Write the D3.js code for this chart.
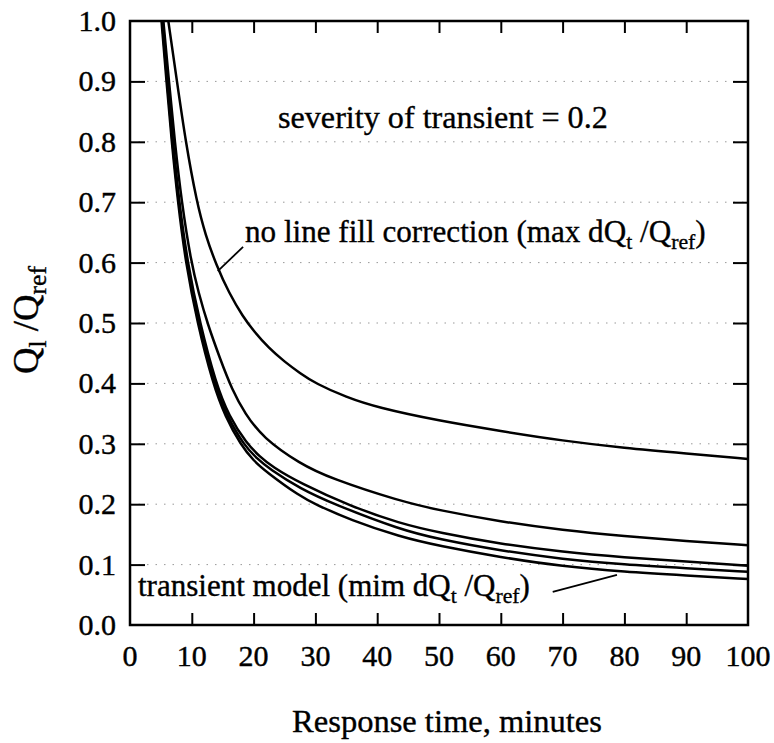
<!DOCTYPE html>
<html>
<head>
<meta charset="utf-8">
<script src="https://cdn.jsdelivr.net/npm/d3@7"></script>
<style>
  body { margin: 0; background: #fff; }
  svg { display: block; }
</style>
</head>
<body>
<svg></svg>
<script>
const width = 774;
const height = 743;
const margin = { top: 21, right: 26, bottom: 118, left: 130 };

// tick values
const xTicks = [0, 10, 20, 30, 40, 50, 60, 70, 80, 90, 100];
const yTicks = [0.0, 0.1, 0.2, 0.3, 0.4, 0.5, 0.6, 0.7, 0.8, 0.9, 1.0];

// curves: [response time, Ql/Qref]
const noLineFill = [[6.2,1.0],[7.6,0.9],[9.0,0.8],[10.8,0.7],[12.2,0.646],[14,0.595],[16,0.55],[18.3,0.51],[20,0.487],[22.5,0.458],[25,0.436],[27.5,0.417],[30,0.40],[35,0.377],[40,0.36],[50,0.338],[60,0.321],[70,0.305],[80,0.293],[90,0.284],[100,0.275]];
const curveB = [[5.4,1.0],[6.3,0.9],[7.25,0.8],[8.35,0.7],[9.9,0.6],[11.1,0.55],[12.5,0.5],[14.6,0.44],[16.5,0.39],[18.6,0.35],[21.5,0.31],[27.5,0.267],[32.4,0.243],[43.7,0.205],[50,0.19],[60,0.171],[70,0.157],[80,0.147],[90,0.139],[100,0.132]];
const curveC = [[5.3,1.0],[6.1,0.9],[6.95,0.8],[7.95,0.7],[9.3,0.6],[11.3,0.5],[13.9,0.4],[16,0.346],[18.9,0.3],[21,0.279],[23,0.262],[27.5,0.235],[35.6,0.197],[43.7,0.168],[50,0.153],[60,0.134],[70,0.121],[80,0.112],[90,0.105],[100,0.098]];
const curveD = [[5.2,1.0],[6.0,0.9],[6.85,0.8],[7.85,0.7],[9.15,0.6],[11.1,0.5],[13.6,0.4],[15.7,0.345],[18.5,0.297],[20.5,0.276],[22.5,0.259],[27.5,0.226],[33,0.2],[43.7,0.158],[50,0.142],[60,0.123],[70,0.109],[80,0.1],[90,0.094],[100,0.088]];
const transientModel = [[5.1,1.0],[5.9,0.9],[6.75,0.8],[7.75,0.7],[9.0,0.6],[10.9,0.5],[13.4,0.4],[15.4,0.345],[18,0.297],[20,0.272],[22,0.254],[27.5,0.213],[30,0.2],[35.6,0.174],[43.7,0.146],[50,0.131],[60,0.112],[70,0.097],[80,0.088],[90,0.082],[100,0.076]];
const allCurves = [noLineFill, curveB, curveC, curveD, transientModel];

const svg = d3.select('svg')
  .attr('width', width)
  .attr('height', height);

svg.append('rect').attr('width', width).attr('height', height).attr('fill', 'white');

const x = d3.scaleLinear().domain([0, 100]).range([margin.left, width - margin.right]);
const y = d3.scaleLinear().domain([0, 1]).range([height - margin.bottom, margin.top]);

const fontFamily = "'Liberation Serif', 'DejaVu Serif', serif";

// faint dotted grid
svg.append('g')
  .selectAll('line')
  .data(yTicks.slice(1, -1))
  .enter().append('line')
    .attr('x1', x(0)).attr('x2', x(100))
    .attr('y1', d => y(d)).attr('y2', d => y(d))
    .attr('stroke', '#999')
    .attr('stroke-width', 1)
    .attr('stroke-dasharray', '1.5,7');

// axes: ticks inward on all four sides
svg.append('g')
  .attr('transform', `translate(0,${y(0)})`)
  .call(d3.axisTop(x).tickValues(xTicks.slice(1, -1)).tickSize(12).tickFormat(''));
svg.append('g')
  .attr('transform', `translate(0,${y(1)})`)
  .call(d3.axisBottom(x).tickValues(xTicks.slice(1, -1)).tickSize(12).tickFormat(''));
svg.append('g')
  .attr('transform', `translate(${x(0)},0)`)
  .call(d3.axisRight(y).tickValues(yTicks.slice(1, -1)).tickSize(15).tickFormat(''));
svg.append('g')
  .attr('transform', `translate(${x(100)},0)`)
  .call(d3.axisLeft(y).tickValues(yTicks.slice(1, -1)).tickSize(15).tickFormat(''));

svg.selectAll('.domain').remove();
svg.selectAll('.tick line').attr('stroke', '#000').attr('stroke-width', 2);

// frame
svg.append('rect')
  .attr('x', x(0)).attr('y', y(1))
  .attr('width', x(100) - x(0)).attr('height', y(0) - y(1))
  .attr('fill', 'none')
  .attr('stroke', '#000')
  .attr('stroke-width', 2.5);

// tick labels
svg.append('g')
  .selectAll('text')
  .data(xTicks)
  .enter().append('text')
    .attr('x', d => x(d))
    .attr('y', 666)
    .attr('text-anchor', 'middle')
    .attr('font-family', fontFamily)
    .attr('font-size', 30)
    .attr('stroke', '#000').attr('stroke-width', 0.4)
    .text(d => d);

svg.append('g')
  .selectAll('text')
  .data(yTicks)
  .enter().append('text')
    .attr('x', 116)
    .attr('y', d => y(d) + 10)
    .attr('text-anchor', 'end')
    .attr('font-family', fontFamily)
    .attr('font-size', 30)
    .attr('stroke', '#000').attr('stroke-width', 0.4)
    .text(d => d.toFixed(1));

// curves
const line = d3.line()
  .x(d => x(d[0]))
  .y(d => y(d[1]))
  .curve(d3.curveBasis);

svg.append('g')
  .selectAll('path')
  .data(allCurves)
  .enter().append('path')
    .attr('d', line)
    .attr('fill', 'none')
    .attr('stroke', '#000')
    .attr('stroke-width', 2.5);

// text with sub/normal parts, scaled to a target width
function fillParts(sel, parts, size) {
  sel.selectAll('tspan').remove();
  sel.attr('font-size', size);
  parts.forEach(p => {
    const t = sel.append('tspan').text(p[0]);
    if (p[1] === 'sub') {
      t.attr('font-size', size * 0.7).attr('dy', size * 0.22);
    } else if (p[1] === 'up') {
      t.attr('dy', -size * 0.22);
    }
  });
}

function fitText(xp, yp, parts, target, anchor, transform) {
  const t = svg.append('text')
    .attr('font-family', fontFamily)
    .attr('text-anchor', anchor || 'start')
    .attr('stroke', '#000').attr('stroke-width', 0.35);
  if (transform) t.attr('transform', transform);
  else t.attr('x', xp).attr('y', yp);
  fillParts(t, parts, 28);
  const w = t.node().getComputedTextLength();
  fillParts(t, parts, 28 * target / w);
  return t;
}

fitText(278, 128, [['severity of transient = 0.2']], 330);
fitText(245, 242, [['no line fill correction (max dQ'], ['t', 'sub'], [' /Q', 'up'], ['ref', 'sub'], [')', 'up']], 461);
fitText(138, 596, [['transient model (mim dQ'], ['t', 'sub'], [' /Q', 'up'], ['ref', 'sub'], [')', 'up']], 392);
fitText(447, 732, [['Response time, minutes']], 310, 'middle');
fitText(0, 0, [['Q'], ['l', 'sub'], [' /Q', 'up'], ['ref', 'sub']], 108, 'middle', 'translate(38,320) rotate(-90)');

// leader lines
const leaders = [
  [[18.3, 0.626], [14.2, 0.586]],
  [[68.4, 0.055], [78.8, 0.083]]
];
svg.append('g')
  .selectAll('line')
  .data(leaders)
  .enter().append('line')
    .attr('x1', d => x(d[0][0])).attr('y1', d => y(d[0][1]))
    .attr('x2', d => x(d[1][0])).attr('y2', d => y(d[1][1]))
    .attr('stroke', '#000')
    .attr('stroke-width', 1.8);
</script>
</body>
</html>
